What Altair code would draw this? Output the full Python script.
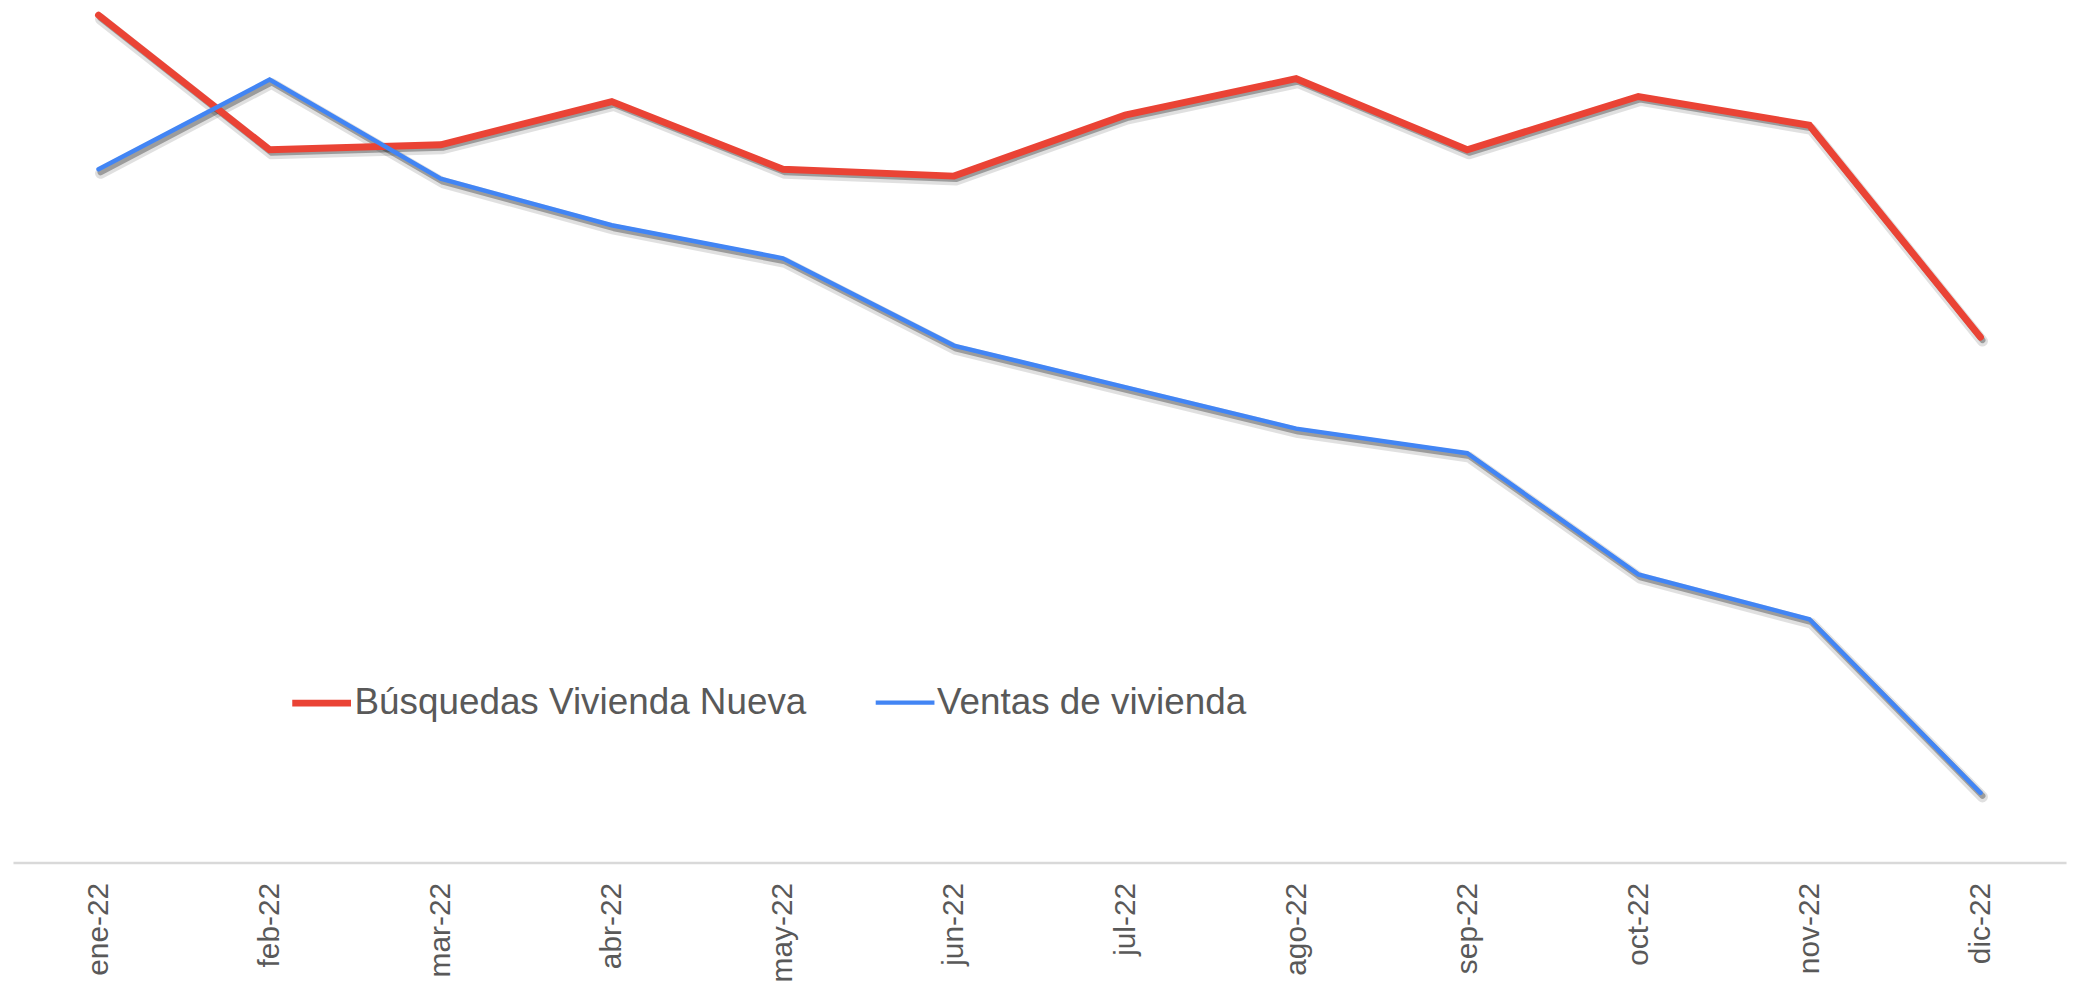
import altair as alt
import pandas as pd

meses = ["ene-22", "feb-22", "mar-22", "abr-22", "may-22", "jun-22",
         "jul-22", "ago-22", "sep-22", "oct-22", "nov-22", "dic-22"]
busquedas = [100.0, 84.1, 84.7, 89.8, 81.8, 81.0, 88.2, 92.5, 84.1, 90.4, 87.0, 62.0]
ventas = [81.8, 92.4, 80.7, 75.2, 71.3, 61.0, 56.1, 51.2, 48.3, 34.0, 28.7, 8.2]
series = ["Búsquedas Vivienda Nueva", "Ventas de vivienda"]
colores = ["#EA4335", "#4285F4"]

rows = []
for i, m in enumerate(meses):
    rows.append({"mes": m, "serie": series[0], "valor": busquedas[i], "orden": i})
    rows.append({"mes": m, "serie": series[1], "valor": ventas[i], "orden": i})
df = pd.DataFrame(rows)

x_enc = alt.X("mes:N", sort=meses,
              scale=alt.Scale(type="point", padding=0.5),
              axis=alt.Axis(title=None, labelAngle=270, labelFont="Liberation Sans",
                            labelFontSize=30, labelColor="#595959", labelPadding=20,
                            ticks=False, grid=False, domainColor="#D9D9D9",
                            domainWidth=2.5, labelOverlap=False, labelBound=False))
y_enc = alt.Y("valor:Q", scale=alt.Scale(domain=[0, 100], nice=False, zero=True),
              axis=None)

base = alt.Chart(df)

shadow1 = base.mark_line(color="#000000", opacity=0.12, strokeWidth=11,
                         xOffset=2, yOffset=4, strokeCap="round", strokeJoin="round").encode(
    x=x_enc, y=y_enc, detail="serie:N", order="orden:Q")
shadow2 = base.mark_line(color="#000000", opacity=0.3, strokeWidth=6,
                         xOffset=2, yOffset=3, strokeCap="round", strokeJoin="round").encode(
    x=x_enc, y=y_enc, detail="serie:N", order="orden:Q")

lines = base.mark_line(strokeCap="round", strokeJoin="miter").encode(
    x=x_enc, y=y_enc, order="orden:Q",
    color=alt.Color("serie:N", sort=series,
                    scale=alt.Scale(domain=series, range=colores),
                    legend=alt.Legend(title=None, orient="none", direction="horizontal",
                                      legendX=277, legendY=658, padding=0,
                                      symbolType="stroke", symbolSize=3481,
                                      symbolStrokeWidth=6.5, labelFont="Liberation Sans",
                                      labelFontSize=37, labelColor="#595959",
                                      labelOffset=0, columnPadding=60,
                                      labelLimit=1000)),
    strokeWidth=alt.StrokeWidth("serie:N", scale=alt.Scale(domain=series, range=[7, 4.5]),
                                legend=None),
)

chart = alt.layer(shadow1, shadow2, lines).properties(
    width=2062, height=851,
    autosize=alt.AutoSizeParams(type="none"),
    padding={"left": 5, "top": 5, "right": 5, "bottom": 130},
    background="white",
).configure_view(stroke=None)

chart.save("out.html", embed_options={"renderer": "svg", "actions": False})
